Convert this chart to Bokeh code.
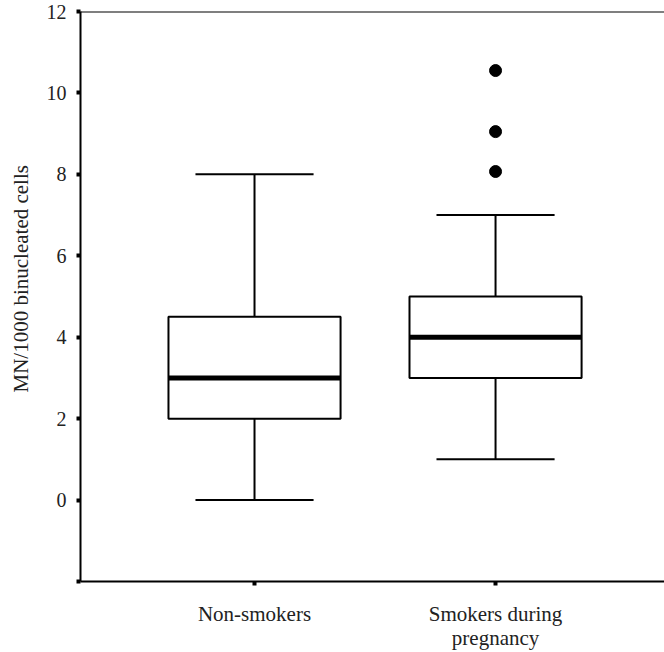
from bokeh.plotting import figure
from bokeh.models import Range1d, FixedTicker, Span, Title
from bokeh.embed import file_html
from bokeh.resources import INLINE

# ---- data ----
categories = ["Non-smokers", "Smokers during\npregnancy"]
positions = [1, 2]
lower_whisker = [0, 1]
q1 = [2, 3]
median = [3, 4]
q3 = [4.5, 5]
upper_whisker = [8, 7]
outlier_group = [2, 2, 2]
outlier_values = [8.07, 9.05, 10.55]
y_ticks = [-2, 0, 2, 4, 6, 8, 10, 12]
y_title = "MN/1000 binucleated cells"

FONT = "Liberation Serif"
TXT = "#222222"

p = figure(width=664, height=652, output_backend="svg", toolbar_location=None,
           x_range=Range1d(0.278, 2.701), y_range=Range1d(-2, 12),
           min_border_left=80, min_border_right=0, min_border_top=11,
           min_border_bottom=71)
p.outline_line_color = None
p.xgrid.visible = False
p.ygrid.visible = False
p.background_fill_color = "white"
p.border_fill_color = "white"

box_w = 0.714
cap_w = 0.49

# whiskers
p.segment(x0=positions, y0=q3, x1=positions, y1=upper_whisker, line_color="black", line_width=2)
p.segment(x0=positions, y0=lower_whisker, x1=positions, y1=q1, line_color="black", line_width=2)
# caps
p.segment(x0=[x - cap_w / 2 for x in positions], y0=upper_whisker,
          x1=[x + cap_w / 2 for x in positions], y1=upper_whisker, line_color="black", line_width=2)
p.segment(x0=[x - cap_w / 2 for x in positions], y0=lower_whisker,
          x1=[x + cap_w / 2 for x in positions], y1=lower_whisker, line_color="black", line_width=2)
# boxes
p.vbar(x=positions, width=box_w, bottom=q1, top=q3, fill_color="white",
       line_color="black", line_width=2)
# medians
p.segment(x0=[x - box_w / 2 for x in positions], y0=median,
          x1=[x + box_w / 2 for x in positions], y1=median, line_color="black", line_width=5)
# outliers
p.scatter(x=outlier_group, y=outlier_values, size=12, color="black")

# top frame line
p.add_layout(Span(location=12, dimension="width", line_color="black", line_width=2))

# axes
for ax in (p.xaxis[0], p.yaxis[0]):
    ax.axis_line_width = 2
    ax.axis_line_color = "black"
    ax.major_tick_in = 0
    ax.major_tick_out = 4
    ax.major_tick_line_width = 4
    ax.major_tick_line_color = "black"
    ax.minor_tick_line_color = None
    ax.major_label_text_font = FONT
    ax.major_label_text_color = TXT

p.yaxis.major_label_text_font_size = "20px"
p.yaxis.ticker = FixedTicker(ticks=y_ticks)
p.yaxis.major_label_overrides = {-2: ""}
p.yaxis.major_label_standoff = 10

p.xaxis.major_label_text_font_size = "21px"
p.xaxis.major_label_text_line_height = 1.0
p.xaxis.ticker = FixedTicker(ticks=positions)
p.xaxis.major_label_overrides = {pos: lab for pos, lab in zip(positions, categories)}
p.xaxis.major_label_standoff = 16

p.add_layout(Title(text=y_title, align="left", offset=189, standoff=17,
                   vertical_align="top",
                   text_font=FONT, text_font_size="21px", text_font_style="normal",
                   text_color=TXT), "left")

open("out.html", "w").write(file_html(p, INLINE))
